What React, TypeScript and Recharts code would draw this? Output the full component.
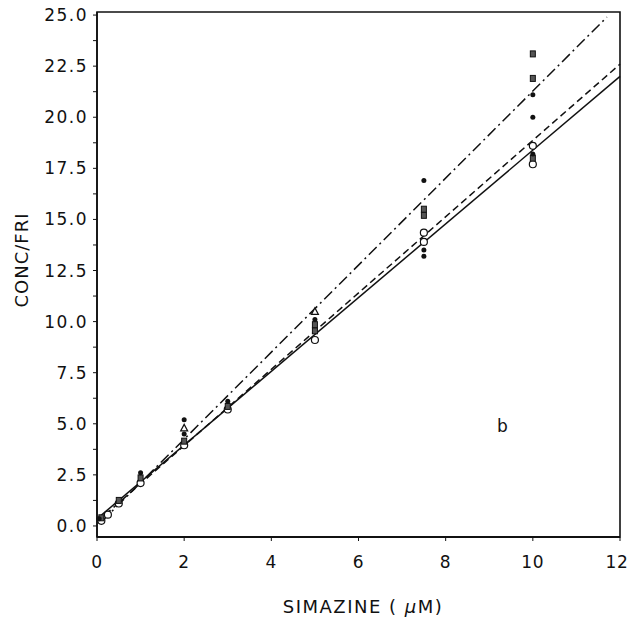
import React from 'react';
import {
  ComposedChart, Line, Scatter, XAxis, YAxis, ReferenceArea, ReferenceDot,
} from 'recharts';

// fitted lines (end points)
const solidLine = [{ x: 0, y: 0.35 }, { x: 12, y: 22.0 }];
const dashedLine = [{ x: 0, y: 0.2 }, { x: 12, y: 22.6 }];
const dashDotLine = [{ x: 0.1, y: 0.2 }, { x: 11.7, y: 24.9 }];

// measured points, grouped by marker
const circlePts = [
  { x: 0.1, y: 0.25 }, { x: 0.25, y: 0.55 }, { x: 0.5, y: 1.1 }, { x: 1, y: 2.1 },
  { x: 2, y: 3.95 }, { x: 3, y: 5.7 }, { x: 5, y: 9.1 }, { x: 7.5, y: 13.9 },
  { x: 7.5, y: 14.35 }, { x: 10, y: 17.7 }, { x: 10, y: 18.6 },
];
const squarePts = [
  { x: 0.1, y: 0.4 }, { x: 0.5, y: 1.25 }, { x: 1, y: 2.35 }, { x: 2, y: 4.15 },
  { x: 3, y: 5.85 }, { x: 5, y: 9.55 }, { x: 5, y: 9.85 }, { x: 7.5, y: 15.2 },
  { x: 7.5, y: 15.5 }, { x: 10, y: 18.0 }, { x: 10, y: 21.9 }, { x: 10, y: 23.1 },
];
const dotPts = [
  { x: 0.05, y: 0.35 }, { x: 1, y: 2.6 }, { x: 2, y: 4.5 }, { x: 2, y: 5.2 },
  { x: 3, y: 6.1 }, { x: 5, y: 10.1 }, { x: 7.5, y: 16.9 }, { x: 7.5, y: 13.5 },
  { x: 7.5, y: 13.2 }, { x: 10, y: 21.1 }, { x: 10, y: 20.0 }, { x: 10, y: 18.2 },
];
const trianglePts = [{ x: 2, y: 4.8 }, { x: 5, y: 10.5 }];

const xTicks = [0, 2, 4, 6, 8, 10, 12];
const yTicks = [0, 1.25, 2.5, 3.75, 5, 6.25, 7.5, 8.75, 10, 11.25, 12.5, 13.75, 15,
  16.25, 17.5, 18.75, 20, 21.25, 22.5, 23.75, 25];

const FONT = '"DejaVu Sans", sans-serif';
const INK = '#111';

const Circle = (p: any) => (
  <circle cx={p.cx} cy={p.cy} r={3.5} fill="#fff" stroke={INK} strokeWidth={1.2} />
);
const Square = (p: any) => (
  <rect x={p.cx - 2.5} y={p.cy - 3} width={5} height={6} fill="#555" stroke={INK} strokeWidth={1} />
);
const Dot = (p: any) => <circle cx={p.cx} cy={p.cy} r={2.5} fill={INK} />;
const Triangle = (p: any) => (
  <path d={`M${p.cx},${p.cy - 3.5} L${p.cx + 3.5},${p.cy + 3} L${p.cx - 3.5},${p.cy + 3} Z`}
    fill="#fff" stroke={INK} strokeWidth={1.2} />
);

const YTick = (props: any) => {
  const { x, y, payload } = props;
  const v = payload.value;
  if (Math.abs(v / 2.5 - Math.round(v / 2.5)) > 1e-6) return <g />;
  return (
    <text x={x} y={y} dy={6} textAnchor="end" fontFamily={FONT} fontSize={17}
      letterSpacing={1.5} fill={INK}>
      {v.toFixed(1)}
    </text>
  );
};

const XTick = (props: any) => {
  const { x, y, payload } = props;
  // last label sits against the page edge
  const shift = payload.value === 12 ? -3 : 0;
  return (
    <text x={x + shift} y={y} dy={13} textAnchor="middle" fontFamily={FONT} fontSize={17}
      letterSpacing={0.8} fill={INK}>
      {payload.value}
    </text>
  );
};

export default function App() {
  return (
    <div style={{ position: 'absolute', left: 0, top: 0, background: '#fff' }}>
      <ComposedChart width={630} height={621} margin={{ top: 12, right: 10, bottom: 24, left: 0 }}>
        <XAxis type="number" dataKey="x" domain={[0, 12]} ticks={xTicks} height={60}
          axisLine={{ stroke: INK, strokeWidth: 2 }} tickLine={{ stroke: INK }}
          tickSize={4} tickMargin={14} tick={<XTick />}
          label={{
            content: () => (
              <text x={363} y={613} textAnchor="middle" fontFamily={FONT} fontSize={18}
                letterSpacing={1.5} fill={INK}>
                SIMAZINE ( <tspan fontStyle="italic">μ</tspan>M)
              </text>
            ),
          }} />
        <YAxis type="number" dataKey="y" domain={[-0.54, 25.15]} ticks={yTicks} width={97}
          allowDataOverflow interval={0}
          axisLine={{ stroke: INK, strokeWidth: 1.6 }} tickLine={{ stroke: INK }}
          tickSize={4} tickMargin={5} tick={<YTick />}
          label={{
            content: () => (
              <text x={28} y={260} transform="rotate(-90 28 260)" textAnchor="middle"
                fontFamily={FONT} fontSize={18} letterSpacing={1} fill={INK}>
                CONC/FRI
              </text>
            ),
          }} />
        <ReferenceArea x1={0} x2={12} y1={-0.54} y2={25.15} fill="none"
          stroke={INK} strokeWidth={1.6} />
        <Line data={solidLine} dataKey="y" stroke={INK} strokeWidth={1.5} dot={false}
          isAnimationActive={false} />
        <Line data={dashedLine} dataKey="y" stroke={INK} strokeWidth={1.5}
          strokeDasharray="7 4" dot={false} isAnimationActive={false} />
        <Line data={dashDotLine} dataKey="y" stroke={INK} strokeWidth={1.5}
          strokeDasharray="11 4 2 4" dot={false} isAnimationActive={false} />
        <Scatter data={circlePts} shape={Circle} isAnimationActive={false} />
        <Scatter data={squarePts} shape={Square} isAnimationActive={false} />
        <Scatter data={dotPts} shape={Dot} isAnimationActive={false} />
        <Scatter data={trianglePts} shape={Triangle} isAnimationActive={false} />
        <ReferenceDot x={9.3} y={4.9} r={0} fill="none" stroke="none"
          label={{ value: 'b', position: 'center', fontFamily: FONT, fontSize: 17, fill: INK }} />
      </ComposedChart>
    </div>
  );
}
